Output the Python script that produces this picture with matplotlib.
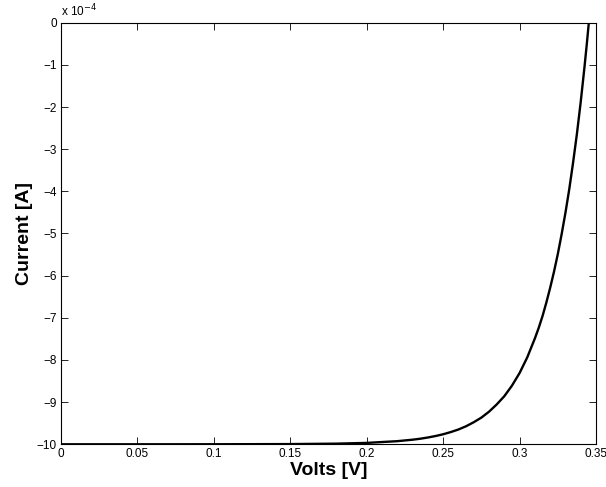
import matplotlib
matplotlib.use("Agg")
import matplotlib.pyplot as plt

plt.rcParams['font.family'] = ['Liberation Sans', 'DejaVu Sans']

# Data (current in units of 1e-4 A)
volts = [0.0, 0.05, 0.10, 0.15, 0.18, 0.20, 0.22, 0.23, 0.235, 0.24, 0.245,
         0.25, 0.255, 0.26, 0.265, 0.27, 0.275, 0.28, 0.285, 0.29, 0.295,
         0.30, 0.305, 0.31, 0.3125, 0.315, 0.3175, 0.32, 0.3225, 0.325,
         0.3275, 0.33, 0.3325, 0.335, 0.3375, 0.34, 0.3425, 0.344, 0.3453]
current_e4 = [-10.0, -10.0, -9.9993, -9.995, -9.985, -9.967, -9.926, -9.891,
              -9.868, -9.839, -9.804, -9.762, -9.71, -9.649, -9.572, -9.477,
              -9.367, -9.227, -9.056, -8.86, -8.61, -8.31, -7.94, -7.49,
              -7.24, -6.96, -6.64, -6.29, -5.91, -5.49, -5.02, -4.51, -3.95,
              -3.32, -2.64, -1.88, -1.04, -0.50, 0.0]

x_ticks = [0, 0.05, 0.1, 0.15, 0.2, 0.25, 0.3, 0.35]
x_tick_labels = ['0', '0.05', '0.1', '0.15', '0.2', '0.25', '0.3', '0.35']
y_ticks = [0, -1, -2, -3, -4, -5, -6, -7, -8, -9, -10]
y_tick_labels = ['0', '\u22121', '\u22122', '\u22123', '\u22124', '\u22125',
                 '\u22126', '\u22127', '\u22128', '\u22129', '\u221210']

fig = plt.figure(figsize=(6.06, 4.87), dpi=100)
ax = fig.add_axes([0.1007, 0.0877, 0.8828, 0.8657])
ax.plot(volts, current_e4, color='black', linewidth=1.7, clip_on=True)
ax.set_xlim(0, 0.35)
ax.set_ylim(-10, 0)
ax.set_xticks(x_ticks)
ax.set_xticklabels(x_tick_labels)
ax.set_yticks(y_ticks)
ax.set_yticklabels(y_tick_labels)
ax.tick_params(direction='in', length=5, width=0.6, labelsize=8.5,
               top=True, right=True, pad=3)
for s in ax.spines.values():
    s.set_linewidth(0.8)
ax.set_xlabel('Volts [V]', fontsize=14, fontweight='bold', labelpad=1)
ax.set_ylabel('Current [A]', fontsize=14, fontweight='bold', labelpad=3)
ax.text(0.0, 1.008, 'x 10$^{-4}$', transform=ax.transAxes, fontsize=8.5,
        ha='left', va='bottom')

fig.savefig('out.png', dpi=100)
